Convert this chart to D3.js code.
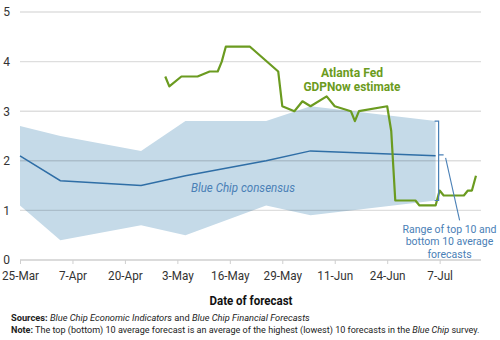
<!DOCTYPE html>
<html><head><meta charset="utf-8">
<script src="https://cdn.jsdelivr.net/npm/d3@7"></script>
<style>
html,body{margin:0;padding:0;background:#fff;}
svg{display:block;font-family:Roboto,"Noto Sans",sans-serif;}
</style></head>
<body>
<svg id="c" width="500" height="340"></svg>
<script>
// ---- data ----
const bcDates = ["2019-03-25","2019-04-04","2019-04-24","2019-05-05","2019-05-25","2019-06-05","2019-07-06"];
const bcConsensus = [2.1, 1.6, 1.5, 1.7, 2.0, 2.2, 2.1];
const bcTop10 = [2.7, 2.5, 2.2, 2.8, 2.8, 3.1, 2.8];
const bcBottom10 = [1.1, 0.4, 0.7, 0.5, 1.1, 0.9, 1.2];

const gdpDates = ["2019-04-30","2019-05-01","2019-05-04","2019-05-08","2019-05-11","2019-05-13","2019-05-14","2019-05-15","2019-05-21","2019-05-28","2019-05-29","2019-06-01","2019-06-03","2019-06-05","2019-06-09","2019-06-11","2019-06-15","2019-06-16","2019-06-17","2019-06-24","2019-06-25","2019-06-26","2019-07-01","2019-07-02","2019-07-06","2019-07-07","2019-07-08","2019-07-13","2019-07-14","2019-07-15","2019-07-16"];
const gdpNow = [3.7,3.5,3.7,3.7,3.8,3.8,4.0,4.3,4.3,3.8,3.1,3.0,3.2,3.1,3.3,3.1,3.0,2.8,3.0,3.1,2.6,1.2,1.2,1.1,1.1,1.4,1.3,1.3,1.4,1.4,1.7];

const xTickDates = ["2019-03-25","2019-04-07","2019-04-20","2019-05-03","2019-05-16","2019-05-29","2019-06-11","2019-06-24","2019-07-07"];
const yTicks = [0,1,2,3,4,5];

// ---- setup ----
const parse = d3.timeParse("%Y-%m-%d");
const svg = d3.select("#c");
const x = d3.scaleTime().domain([parse("2019-03-25"), parse("2019-07-17")]).range([20, 480]);
const y = d3.scaleLinear().domain([0,5]).range([260, 12]);

const band = bcDates.map((d,i)=>({date:parse(d), c:bcConsensus[i], hi:bcTop10[i], lo:bcBottom10[i]}));
const gdp = gdpDates.map((d,i)=>({date:parse(d), v:gdpNow[i]}));

const GREEN = "#6b9b20", BLUE = "#2f6ea6", LBLUE = "#4a80b6", BAND = "#c5dae8";

// squeeze a text to a target width, keeping its height
function squeeze(sel, w) {
  const len = sel.node().getComputedTextLength();
  if (len > w) sel.attr("textLength", w).attr("lengthAdjust", "spacingAndGlyphs");
  return sel;
}
// scale font-size so a text gets a target width
function fit(sel, w) {
  const fs = parseFloat(sel.attr("font-size"));
  const len = sel.node().getComputedTextLength();
  if (len > 0) sel.attr("font-size", (fs * w / len).toFixed(2));
  return sel;
}
// a line of mixed-style tspans, font scaled to a total width
function richLine(x0, y0, segs, total, fs) {
  const t = svg.append("text").attr("x", x0).attr("y", y0).attr("font-size", fs).attr("fill", "#222");
  segs.forEach(s => t.append("tspan")
    .attr("font-weight", s.b ? "bold" : null).attr("font-style", s.i ? "italic" : null).text(s.t));
  const len = t.node().getComputedTextLength();
  if (len > total) t.attr("font-size", (fs * total / len).toFixed(2));
}

// band
svg.append("path").datum(band)
  .attr("fill", BAND)
  .attr("d", d3.area().x(d=>x(d.date)).y0(d=>y(d.lo)).y1(d=>y(d.hi)));

// gridlines (over band, translucent)
svg.append("g").selectAll("line").data(yTicks.filter(t=>t>0)).join("line")
  .attr("x1", x.range()[0]).attr("x2", x.range()[1]+1)
  .attr("y1", d=>y(d)).attr("y2", d=>y(d))
  .attr("stroke", "#000").attr("stroke-opacity", 0.13).attr("stroke-width", 1.4);

// x axis
const xAxis = d3.axisBottom(x)
  .tickValues(xTickDates.map(parse))
  .tickFormat(d3.timeFormat("%-d-%b"))
  .tickSizeOuter(0).tickSize(4).tickPadding(7.5);
const gx = svg.append("g").attr("transform", `translate(0,${y(0)})`).call(xAxis);
gx.select(".domain").attr("stroke", "#cfcfcf").attr("stroke-width", 1.4)
  .attr("d", `M${x.range()[0]},0H${x.range()[1]+1}`);
gx.selectAll(".tick line").attr("stroke", "#cfcfcf");
gx.selectAll(".tick text").attr("fill", "#333").attr("font-size", 12.6).attr("font-family", "Roboto,sans-serif");
gx.selectAll(".tick text").each(function(){ squeeze(d3.select(this), this.getComputedTextLength()*0.93); });

// y axis labels
const yAxis = d3.axisLeft(y).tickValues(yTicks).tickSize(0).tickPadding(0).tickFormat(d3.format("d"));
const gy = svg.append("g").attr("transform", "translate(10,0)").call(yAxis);
gy.select(".domain").remove();
gy.selectAll(".tick text").attr("fill", "#333").attr("font-size", 12).attr("font-family", "Roboto,sans-serif");

// consensus line
svg.append("path").datum(band)
  .attr("fill","none").attr("stroke", BLUE).attr("stroke-width", 1.5)
  .attr("d", d3.line().x(d=>x(d.date)).y(d=>y(d.c)));

// GDPNow line
svg.append("path").datum(gdp)
  .attr("fill","none").attr("stroke", GREEN).attr("stroke-width", 2.2)
  .attr("stroke-linejoin","round")
  .attr("d", d3.line().x(d=>x(d.date)).y(d=>y(d.v)));

// bracket for range at last survey
const last = band[band.length-1];
const bx = x(last.date) + 3;
svg.append("path")
  .attr("fill","none").attr("stroke", LBLUE).attr("stroke-width", 1.2)
  .attr("d", `M${bx-4},${y(last.hi)}H${bx}V${y(last.lo)}H${bx-4}M${bx},${y(last.c)-1}H${bx+5}`);
// leader line
svg.append("line")
  .attr("x1", bx+7).attr("y1", y(last.c)+2)
  .attr("x2", bx+21).attr("y2", y(0.8))
  .attr("stroke", LBLUE).attr("stroke-width", 1.1);

// annotations
squeeze(svg.append("text").attr("x", 191).attr("y", 192)
  .attr("fill", LBLUE).attr("font-size", 12.8).attr("font-style","italic")
  .text("Blue Chip consensus"), 104);

squeeze(svg.append("text").attr("fill", GREEN).attr("font-weight","bold")
  .attr("font-size", 12.6).attr("text-anchor","middle").attr("x", 352).attr("y", 76.5).text("Atlanta Fed"), 62);
squeeze(svg.append("text").attr("fill", GREEN).attr("font-weight","bold")
  .attr("font-size", 12.6).attr("text-anchor","middle").attr("x", 352).attr("y", 91).text("GDPNow estimate"), 97);

const rlines = ["Range of top 10 and","bottom 10 average","forecasts"];
const rsel = rlines.map((s,i)=> svg.append("text").attr("fill", LBLUE).attr("font-size", 11.5)
  .attr("text-anchor","middle").attr("x", 449.5).attr("y", 232.5 + i*12.8).text(s));
fit(rsel[0], 94);
rsel.slice(1).forEach(t => t.attr("font-size", rsel[0].attr("font-size")));

// axis title
squeeze(svg.append("text").attr("x", 251).attr("y", 304.5).attr("text-anchor","middle")
  .attr("font-weight","bold").attr("font-size", 12.5).attr("fill","#111").text("Date of forecast"), 83);

// footnotes
richLine(11, 321, [
  {t:"Sources: ", b:true},
  {t:"Blue Chip Economic Indicators", i:true},
  {t:" and "},
  {t:"Blue Chip Financial Forecasts", i:true}
], 299, 9.8);
richLine(11, 332.5, [
  {t:"Note:", b:true},
  {t:" The top (bottom) 10 average forecast is an average of the highest (lowest) 10 forecasts in the "},
  {t:"Blue Chip", i:true},
  {t:" survey."}
], 469, 9.8);
</script>
</body></html>
